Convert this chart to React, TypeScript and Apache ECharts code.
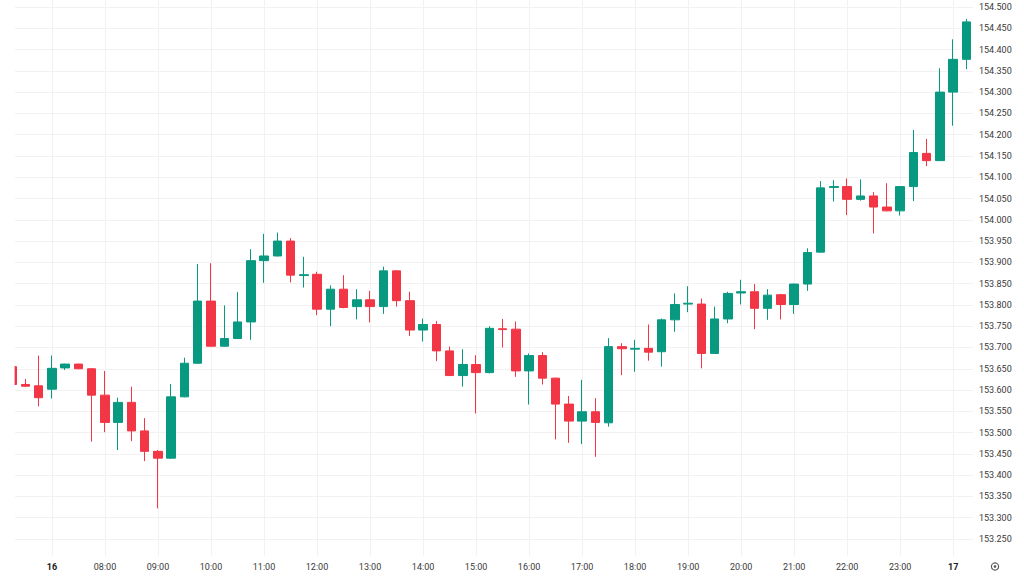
import React, { useEffect, useRef } from "react";
import * as echarts from "echarts";

// 15-minute candles, index 0 = 06:15 (16th) ... index 72 = 00:15 (17th)
const opens = [
  153.655, 153.613, 153.610, 153.602, 153.652, 153.661, 153.650, 153.588, 153.524, 153.571,
  153.504, 153.456, 153.440, 153.584, 153.663, 153.809, 153.703, 153.721, 153.760, 153.904,
  153.915, 153.950, 153.869, 153.872, 153.790, 153.837, 153.796, 153.812, 153.796, 153.880,
  153.810, 153.741, 153.754, 153.692, 153.634, 153.660, 153.641, 153.744, 153.743, 153.645,
  153.681, 153.628, 153.567, 153.527, 153.549, 153.523, 153.702, 153.696, 153.698, 153.690,
  153.765, 153.802, 153.802, 153.686, 153.767, 153.828, 153.831, 153.792, 153.824, 153.801,
  153.849, 153.924, 154.076, 154.078, 154.048, 154.056, 154.030, 154.021, 154.078, 154.156,
  154.139, 154.300, 154.377,
];
const closes = [
  153.613, 153.609, 153.582, 153.651, 153.661, 153.650, 153.588, 153.524, 153.571, 153.504,
  153.456, 153.440, 153.584, 153.663, 153.809, 153.703, 153.721, 153.760, 153.904, 153.915,
  153.950, 153.870, 153.871, 153.790, 153.837, 153.794, 153.812, 153.796, 153.880, 153.810,
  153.741, 153.754, 153.692, 153.634, 153.660, 153.641, 153.745, 153.742, 153.645, 153.681,
  153.628, 153.567, 153.527, 153.549, 153.524, 153.702, 153.697, 153.698, 153.689, 153.765,
  153.801, 153.804, 153.686, 153.767, 153.827, 153.831, 153.792, 153.823, 153.801, 153.849,
  153.923, 154.075, 154.078, 154.048, 154.056, 154.030, 154.021, 154.078, 154.158, 154.139,
  154.300, 154.377, 154.465,
];
const lows = [
  153.610, 153.607, 153.562, 153.580, 153.647, 153.649, 153.479, 153.501, 153.459, 153.480,
  153.433, 153.322, 153.438, 153.583, 153.662, 153.702, 153.702, 153.720, 153.718, 153.852,
  153.914, 153.853, 153.841, 153.776, 153.750, 153.792, 153.766, 153.759, 153.779, 153.796,
  153.727, 153.714, 153.668, 153.633, 153.608, 153.545, 153.639, 153.700, 153.631, 153.566,
  153.613, 153.484, 153.476, 153.473, 153.443, 153.514, 153.635, 153.643, 153.669, 153.655,
  153.737, 153.783, 153.651, 153.685, 153.757, 153.801, 153.743, 153.765, 153.766, 153.779,
  153.833, 153.923, 154.043, 154.011, 154.045, 153.968, 154.020, 154.010, 154.044, 154.126,
  154.138, 154.221, 154.354,
];
const highs = [
  153.657, 153.626, 153.681, 153.681, 153.662, 153.662, 153.651, 153.645, 153.582, 153.608,
  153.534, 153.459, 153.614, 153.676, 153.896, 153.898, 153.799, 153.830, 153.931, 153.967,
  153.970, 153.957, 153.913, 153.878, 153.846, 153.870, 153.837, 153.833, 153.890, 153.881,
  153.831, 153.768, 153.762, 153.702, 153.696, 153.682, 153.750, 153.767, 153.761, 153.686,
  153.689, 153.629, 153.586, 153.624, 153.581, 153.722, 153.710, 153.718, 153.754, 153.768,
  153.827, 153.844, 153.815, 153.796, 153.831, 153.859, 153.849, 153.837, 153.826, 153.850,
  153.933, 154.091, 154.093, 154.097, 154.095, 154.065, 154.086, 154.079, 154.211, 154.190,
  154.356, 154.424, 154.472,
];

// hour tick positions (candle index) and labels
const hourTickIndex = [3, 7, 11, 15, 19, 23, 27, 31, 35, 39, 43, 47, 51, 55, 59, 63, 67, 71];
const hourTickLabels = [
  "16", "08:00", "09:00", "10:00", "11:00", "12:00", "13:00", "14:00", "15:00",
  "16:00", "17:00", "18:00", "19:00", "20:00", "21:00", "22:00", "23:00", "17",
];
const dayLabels = ["16", "17"];

const priceTicks = [
  153.25, 153.3, 153.35, 153.4, 153.45, 153.5, 153.55, 153.6, 153.65, 153.7, 153.75, 153.8,
  153.85, 153.9, 153.95, 154.0, 154.05, 154.1, 154.15, 154.2, 154.25, 154.3, 154.35, 154.4,
  154.45, 154.5,
];

const UP = "#089981";
const DOWN = "#F23645";
const GRID = "#f2f2f2";
const TEXT = "#3a3a3a";
const FONT = "Roboto";

export default function App() {
  const ref = useRef<HTMLDivElement>(null);
  useEffect(() => {
    if (!ref.current) return;
    const chart = echarts.init(ref.current, null, { renderer: "svg" });
    const data = opens.map((o, i) => [i, o, closes[i], lows[i], highs[i]]);
    chart.setOption({
      animation: false,
      backgroundColor: "#ffffff",
      grid: { left: 15, right: 51, top: 0, bottom: 20 },
      xAxis: {
        type: "value",
        min: 0.21,
        max: 72.5,
        axisLine: { show: false },
        axisTick: { show: false, customValues: hourTickIndex },
        splitLine: { show: true, lineStyle: { color: GRID, width: 1 } },
        axisLabel: {
          customValues: hourTickIndex,
          margin: 6,
          color: TEXT,
          fontFamily: FONT,
          fontSize: 9,
          formatter: (v: number) => {
            const k = hourTickIndex.indexOf(Math.round(v));
            if (k < 0) return "";
            const lab = hourTickLabels[k];
            return dayLabels.includes(lab) ? "{b|" + lab + "}" : lab;
          },
          rich: {
            b: { fontWeight: "bold", color: "#222", fontFamily: FONT, fontSize: 9 },
          },
        },
      },
      yAxis: {
        type: "value",
        position: "right",
        min: 153.2101,
        max: 154.5164,
        scale: true,
        axisLine: { show: false },
        axisTick: { show: false, customValues: priceTicks },
        splitLine: { show: true, lineStyle: { color: GRID, width: 1 } },
        axisLabel: {
          customValues: priceTicks,
          margin: 6,
          color: TEXT,
          fontFamily: FONT,
          fontSize: 9,
          formatter: (v: number) => v.toFixed(3),
        },
      },
      graphic: [
        {
          type: "rect",
          z: 100,
          shape: { x: 0, y: 0, width: 14.6, height: 556 },
          style: { fill: "#ffffff" },
        },
        {
          type: "circle",
          shape: { cx: 995, cy: 566.5, r: 3.6 },
          style: { fill: "none", stroke: "#555", lineWidth: 1.1 },
        },
        {
          type: "circle",
          shape: { cx: 995, cy: 566.5, r: 1.3 },
          style: { fill: "#555" },
        },
      ],
      series: [
        {
          type: "candlestick",
          data,
          encode: { x: 0, y: [1, 2, 3, 4] },
          barWidth: 9,
          clip: true,
          itemStyle: {
            color: UP,
            color0: DOWN,
            borderColor: UP,
            borderColor0: DOWN,
            borderWidth: 1,
          },
        },
      ],
    });
    return () => chart.dispose();
  }, []);
  return (
    <div
      ref={ref}
      style={{ position: "fixed", left: 0, top: 0, width: 1024, height: 576 }}
    />
  );
}
